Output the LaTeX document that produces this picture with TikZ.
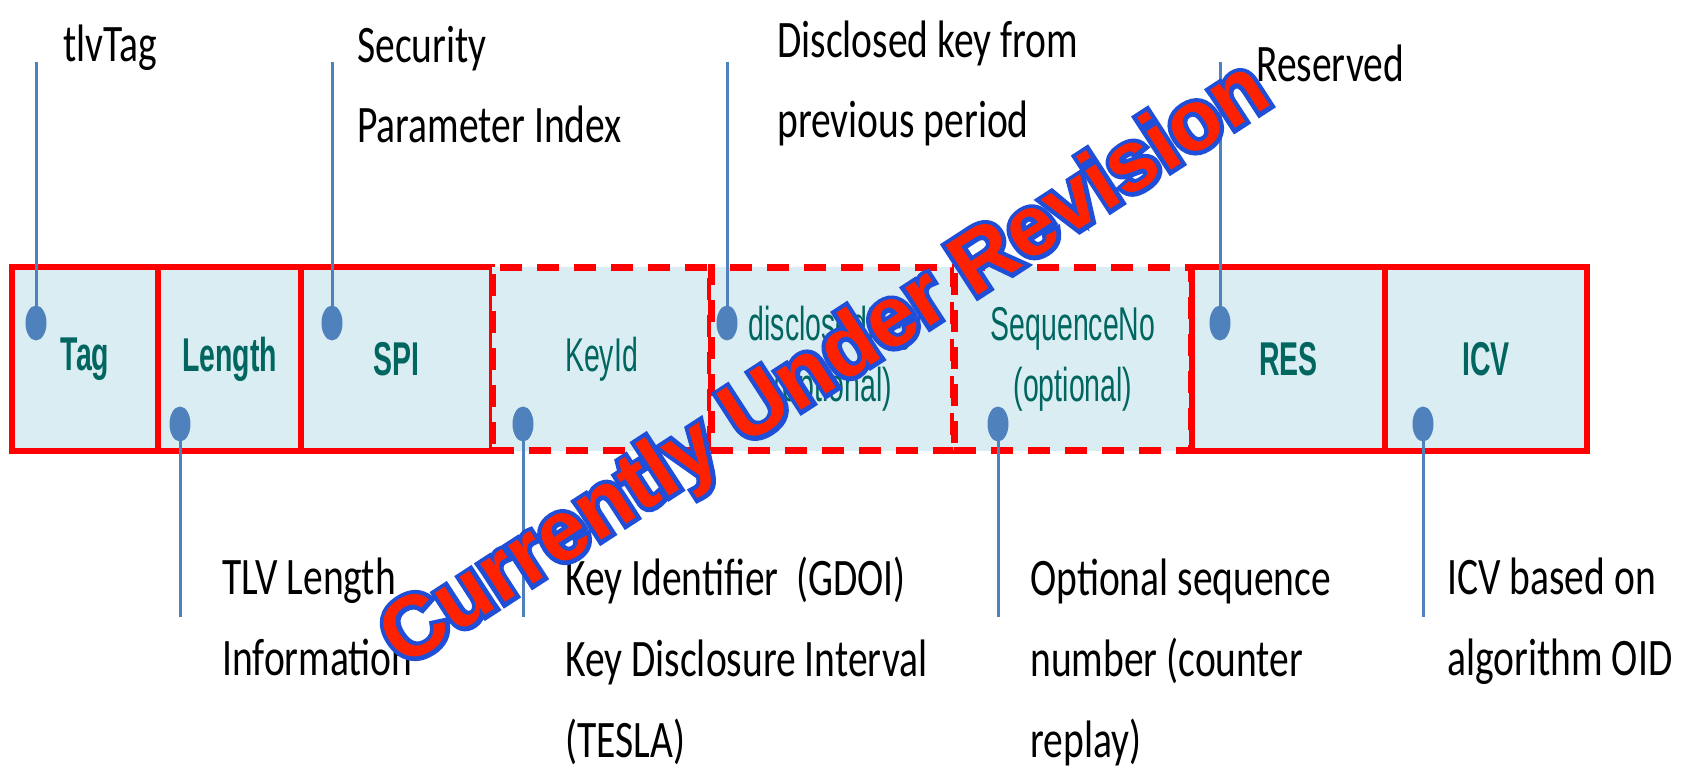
\documentclass[tikz,border=0pt]{standalone}
\usepackage{fontspec}
\usetikzlibrary{shapes.geometric}
\newfontfamily\lblfont[FakeStretch=0.75]{Carlito}
\newfontfamily\fldfont[FakeStretch=0.6]{Liberation Sans}
\newfontfamily\markfont{Liberation Sans}
\definecolor{fldRed}{HTML}{FF0000}
\definecolor{fldFill}{HTML}{DAEDF3}
\definecolor{fldInk}{HTML}{00665F}
\definecolor{pinBlue}{HTML}{4F81BD}
\definecolor{mkRed}{HTML}{FF2200}
\definecolor{mkBlue}{HTML}{1F4FD8}
% red letters with a blue rim
\newcommand{\outlined}[1]{\rlap{\color{mkBlue}\special{pdf:literal direct 2 Tr 5 w}#1\special{pdf:literal direct 0 Tr}}{\color{mkRed}#1}}
\tikzset{
  field/.style={
    draw=fldRed, line width=0.12cm, fill=fldFill,
    minimum height=3.68cm, inner sep=0pt, align=center,
    font=\fldfont\bfseries\fontsize{27}{34.6}\selectfont, text=fldInk
  },
  optfield/.style={field, line width=0.14cm, dash pattern=on 0.44cm off 0.3cm,
    font=\fldfont\fontsize{27}{34.6}\selectfont},
  pin/.style={ellipse, fill=pinBlue, inner sep=0pt, minimum width=0.42cm, minimum height=0.7cm},
  lead/.style={draw=pinBlue, line width=0.06cm},
  note/.style={anchor=base west, align=left, inner sep=0pt,
    font=\lblfont\fontsize{30}{46}\selectfont, text=black},
  wmark/.style={inner sep=0pt, font=\markfont\bfseries\fontsize{49}{49}\selectfont},
}

\begin{document}
\begin{tikzpicture}[x=0.02cm, y=-0.02cm]
  \useasboundingbox (0,0) rectangle (1684,766);

  % fields, left to right
  \node[field, minimum width=2.92cm] (tag) at (85,359)    {Tag};
  \node[field, minimum width=2.86cm] (len) at (229.5,359) {Length};
  \node[field, minimum width=3.82cm] (spi) at (396.5,359) {SPI};
  \node[optfield, minimum width=4.38cm] (keyid) at (601.5,359) {KeyId};
  \node[optfield, minimum width=4.86cm] (disc)  at (832.5,359) {disclosedKey\\(optional)};
  \node[optfield, minimum width=4.76cm] (seq)   at (1073,359)  {SequenceNo\\(optional)};
  \node[field, minimum width=3.86cm] (res) at (1288.5,359) {RES};
  \node[field, minimum width=4.04cm] (icv) at (1486,359)  {ICV};

  % pins
  \node[pin] (tagPin)  at (36,323)   {};
  \node[pin] (spiPin)  at (332,323)  {};
  \node[pin] (discPin) at (727,323)  {};
  \node[pin] (resPin)  at (1220,323) {};
  \node[pin] (lenPin)  at (180,424)  {};
  \node[pin] (keyPin)  at (523,424)  {};
  \node[pin] (seqPin)  at (998,424)  {};
  \node[pin] (icvPin)  at (1423,424) {};

  \coordinate (tagEnd)  at (36,62);
  \coordinate (spiEnd)  at (332,62);
  \coordinate (discEnd) at (727,62);
  \coordinate (resEnd)  at (1220,62);
  \coordinate (lenEnd)  at (180,617);
  \coordinate (keyEnd)  at (523,617);
  \coordinate (seqEnd)  at (998,617);
  \coordinate (icvEnd)  at (1423,617);

  \draw[lead] (tagEnd)  -- (tagPin.center);
  \draw[lead] (spiEnd)  -- (spiPin.center);
  \draw[lead] (discEnd) -- (discPin.center);
  \draw[lead] (resEnd)  -- (resPin.center);
  \draw[lead] (lenPin.center) -- (lenEnd);
  \draw[lead] (keyPin.center) -- (keyEnd);
  \draw[lead] (seqPin.center) -- (seqEnd);
  \draw[lead] (icvPin.center) -- (icvEnd);

  % descriptions (placed by the baseline of their last line)
  \node[note] (tagNote)  at (63,62)    {tlvTag};
  \node[note] (spiNote)  at (357,143)  {Security\\Parameter Index};
  \node[note] (discNote) at (777,138)  {Disclosed key from\\previous period};
  \node[note] (resNote)  at (1256,82)  {Reserved};
  \node[note] (lenNote)  at (222,675)  {TLV Length\\Information};
  \node[note] (keyNote)  at (565,757)  {Key Identifier~~(GDOI)\\Key Disclosure Interval\\(TESLA)};
  \node[note] (seqNote)  at (1030,757) {Optional sequence\\number (counter\\replay)};
  \node[note] (icvNote)  at (1447,675) {ICV based on\\algorithm OID};

  \node[wmark, rotate=33] (revision) at (827,367) {\outlined{Currently Under Revision}};
\end{tikzpicture}
\end{document}
